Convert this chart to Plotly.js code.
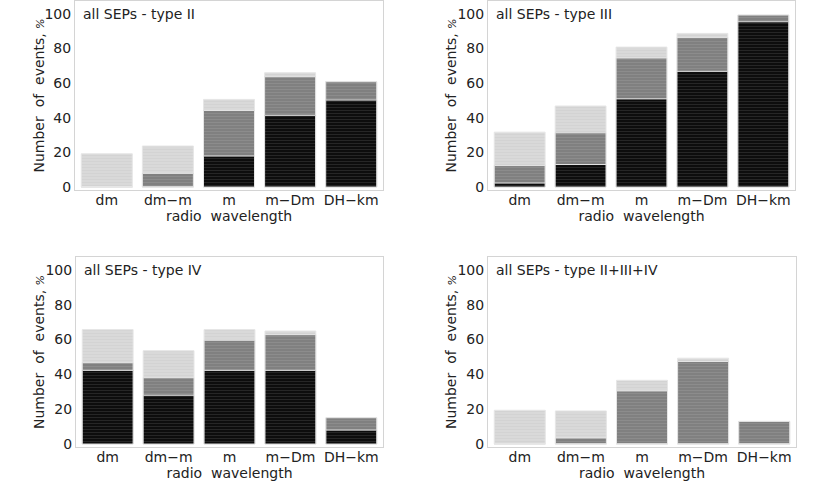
<!DOCTYPE html>
<html>
<head>
<meta charset="utf-8">
<script src="https://cdn.plot.ly/plotly-3.0.1.min.js"></script>
<style>
  html, body { margin: 0; padding: 0; background: #fff; }
  #chart { width: 830px; height: 491px; }
</style>
</head>
<body>
<div id="chart"></div>
<script>
// radio wavelength ranges, same for every panel
const categories = ["dm", "dm\u2212m", "m", "m\u2212Dm", "DH\u2212km"];
const panelTitles = ["all SEPs - type II", "all SEPs - type III", "all SEPs - type IV", "all SEPs - type II+III+IV"];

// bar heights (%), drawn overlaid: light = total, gray, black
const typeIILight = [19.2, 23.7, 50.6, 66.0, 60.8];
const typeIIGray = [0, 7.9, 44.2, 63.7, 60.8];
const typeIIBlack = [0, 0, 17.9, 41.4, 50.2];

const typeIIILight = [31.7, 46.8, 80.8, 88.7, 99.3];
const typeIIIGray = [12.4, 31.3, 74.5, 86.4, 99.3];
const typeIIIBlack = [2.3, 13.0, 50.9, 66.8, 95.4];

const typeIVLight = [65.7, 53.6, 65.7, 64.9, 15.1];
const typeIVGray = [46.7, 38.1, 59.6, 62.8, 15.1];
const typeIVBlack = [42.3, 28.0, 42.3, 42.3, 8.0];

const allTypesLight = [19.4, 19.0, 36.6, 49.3, 13.0];
const allTypesGray = [0, 3.5, 30.5, 47.4, 13.0];
const allTypesBlack = [0, 0, 0, 0, 0];

const panels = [
  [typeIILight, typeIIGray, typeIIBlack],
  [typeIIILight, typeIIIGray, typeIIIBlack],
  [typeIVLight, typeIVGray, typeIVBlack],
  [allTypesLight, allTypesGray, allTypesBlack],
];

const shades = [
  { bg: "#d9d9d9", fg: "#d3d3d3" },
  { bg: "#808080", fg: "#8c8c8c" },
  { bg: "#0d0d0d", fg: "#262626" },
];

// plot frames in page pixels (left, right, top, bottom) and y-title centre x
const W = 830, H = 491;
const frames = [
  [75, 383, 1, 190, 39],
  [488, 795, 1, 190, 451],
  [76, 383, 257, 447, 39],
  [488, 796, 257, 447, 451],
];

const textColor = "#222";
const font = { family: "DejaVu Sans", size: 14, color: textColor };

const traces = [];
const layout = {
  width: W, height: H,
  margin: { l: 0, r: 0, t: 0, b: 0 },
  paper_bgcolor: "#fff", plot_bgcolor: "#fff",
  barmode: "overlay", bargap: 0.165,
  showlegend: false,
  font: font,
  annotations: [],
};

panels.forEach((series, i) => {
  const n = i + 1;
  const xa = n === 1 ? "x" : "x" + n;
  const ya = n === 1 ? "y" : "y" + n;
  series.forEach((vals, k) => {
    traces.push({
      type: "bar", x: categories, y: vals, xaxis: xa, yaxis: ya,
      marker: {
        color: shades[k].bg,
        line: { color: "#e6e6e6", width: 1 },
        pattern: { shape: "-", bgcolor: shades[k].bg, fgcolor: shades[k].fg, size: 3, solidity: 0.35 },
      },
      hoverinfo: "skip",
    });
  });

  const [l, r, t, b, ytx] = frames[i];
  const axisBase = { showline: true, mirror: true, linecolor: "#d4d4d4", linewidth: 1, showgrid: false, zeroline: false, ticks: "", tickfont: font };
  layout["xaxis" + (n === 1 ? "" : n)] = {
    ...axisBase,
    anchor: ya,
    domain: [l / W, r / W],
    range: [-0.52, 4.52],
    ticklabelstandoff: -3,
    title: { text: "radio\u00a0\u00a0wavelength", font: font, standoff: 0 },
  };
  layout["yaxis" + (n === 1 ? "" : n)] = {
    ...axisBase,
    anchor: xa,
    domain: [1 - b / H, 1 - t / H],
    range: [-1.7, 107.4],
    tickvals: [0, 20, 40, 60, 80, 100],
  };
  layout.annotations.push({
    xref: xa + " domain", yref: ya + " domain",
    x: 0.02, y: 0.985, xanchor: "left", yanchor: "top",
    text: panelTitles[i], showarrow: false, font: font,
  });
  layout.annotations.push({
    xref: "paper", yref: ya + " domain",
    x: ytx / W, y: 0.5, xanchor: "center", yanchor: "middle",
    textangle: -90,
    text: "Number\u00a0\u00a0of\u00a0\u00a0events, <i><span style='font-size:11px'>%</span></i>",
    showarrow: false, font: font,
  });
});

Plotly.newPlot("chart", traces, layout, { displayModeBar: false, staticPlot: true });
</script>
</body>
</html>
